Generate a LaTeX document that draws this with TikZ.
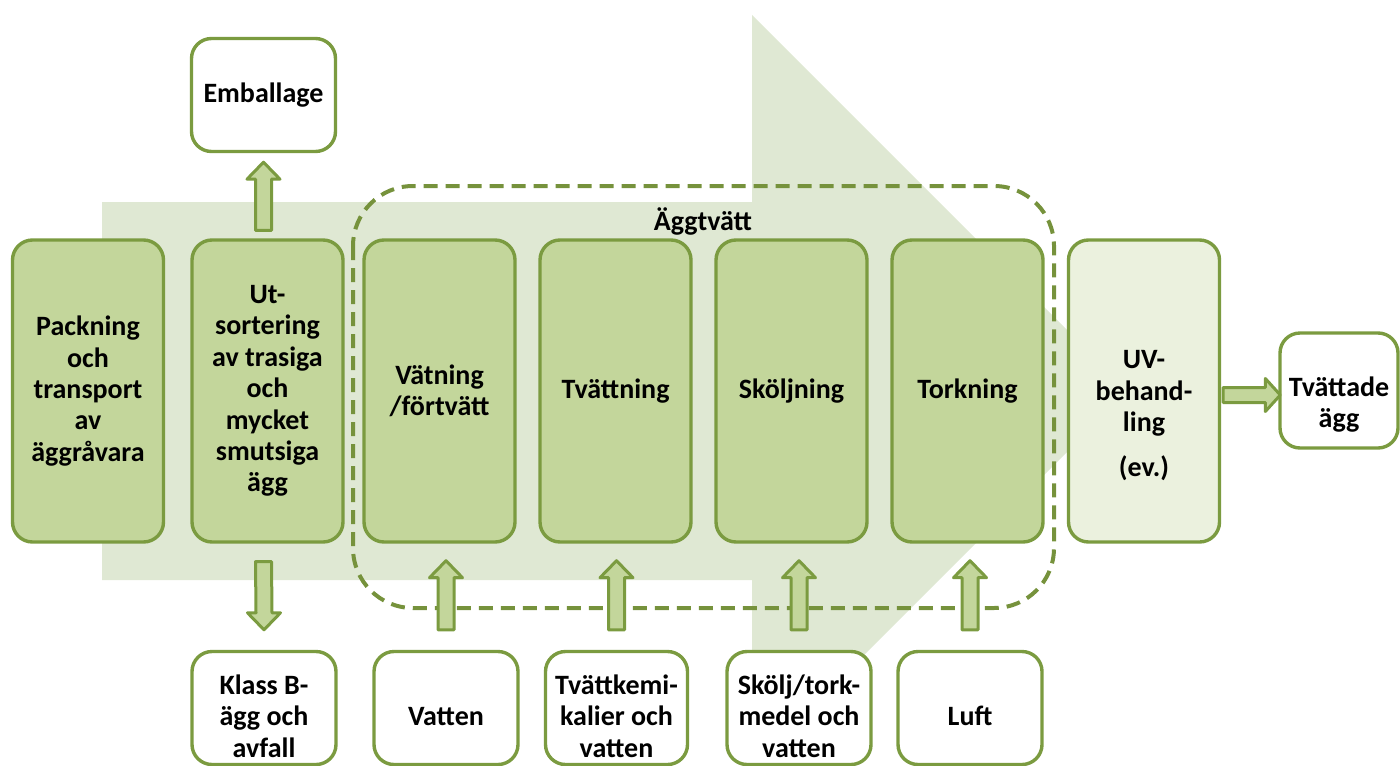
\documentclass[tikz,border=0pt]{standalone}
\usepackage{fontspec}
\setmainfont{Carlito}
\usetikzlibrary{calc}
\definecolor{moss}{HTML}{7B9B40}
\definecolor{leaf}{HTML}{C3D69B}
\definecolor{pale}{HTML}{EBF1DE}
\definecolor{haze}{HTML}{DFE8D3}
\definecolor{fence}{HTML}{76923C}

% fat block arrows, tail first then tip
\newcommand{\fatup}[2]{\filldraw[fatarrow] ($(#1)+(-8,0)$) -- ($(#2)+(-8,17)$) -- ($(#2)+(-16.5,17)$) -- (#2) -- ($(#2)+(16.5,17)$) -- ($(#2)+(8,17)$) -- ($(#1)+(8,0)$) -- cycle;}
\newcommand{\fatdown}[2]{\filldraw[fatarrow] ($(#1)+(-8,0)$) -- ($(#2)+(-8,-17)$) -- ($(#2)+(-16.5,-17)$) -- (#2) -- ($(#2)+(16.5,-17)$) -- ($(#2)+(8,-17)$) -- ($(#1)+(8,0)$) -- cycle;}
\newcommand{\fatright}[2]{\filldraw[fatarrow] ($(#1)+(0,-7.5)$) -- ($(#2)+(-15,-7.5)$) -- ($(#2)+(-15,-16.5)$) -- (#2) -- ($(#2)+(-15,16.5)$) -- ($(#2)+(-15,7.5)$) -- ($(#1)+(0,7.5)$) -- cycle;}
% taller first line pushes the text block down
\newcommand{\sink}[1]{\rule{0pt}{#1}}

\begin{document}
\begin{tikzpicture}[x=0.5pt,y=-0.5pt,line join=round,
  font=\fontsize{14}{15.7}\selectfont\bfseries,
  box/.style={draw=moss,line width=1.7pt,rounded corners=10pt,inner sep=0pt,align=center},
  stage/.style={box,fill=leaf,minimum width=75.5pt,minimum height=151pt},
  side/.style={box,fill=white,minimum width=72pt,minimum height=56.5pt},
  fatarrow/.style={draw=moss,fill=leaf,line width=1.5pt}]
  \useasboundingbox (0,0) rectangle (1400,765);

  % big process arrow in the back
  \fill[haze] (102,202) -- (752,202) -- (752,15) -- (1128,391) -- (752,767) -- (752,580) -- (102,580) -- cycle;

  % washing group
  \draw[fence,line width=2pt,dash pattern=on 7pt off 4pt,rounded corners=30pt] (353,186) rectangle (1054,608);
  \node (wash) at (703,221) {Äggtvätt};

  % main stages
  \node[stage] (pack) at (88,391) {Packning\\och\\transport\\av\\äggråvara};
  \node[stage] (sort) at (267.5,391) {Ut-\\sortering\\av trasiga\\och\\mycket\\smutsiga\\ägg};
  \node[stage] (wet) at (439.5,391) {Vätning\\/förtvätt};
  \node[stage] (scrub) at (615.5,391) {Tvättning};
  \node[stage] (rinse) at (791.5,391) {Sköljning};
  \node[stage] (dry) at (967.5,391) {Torkning};
  \node[stage,fill=pale] (uv) at (1144,391) {\sink{34pt}UV-\\behand-\\ling\\[7pt](ev.)};
  \node[side,minimum width=59pt,minimum height=57.5pt] (done) at (1339,390.5) {\sink{24pt}Tvättade\\ägg};

  % inputs and outputs
  \node[side] (pkg) at (263.5,95) {Emballage};
  \node[side] (waste) at (264,708) {\sink{18pt}Klass B-\\ägg och\\avfall};
  \node[side] (water) at (446,708) {\sink{18pt}Vatten};
  \node[side,minimum width=71pt] (chem) at (616.5,708) {\sink{18pt}Tvättkemi-\\kalier och\\vatten};
  \node[side] (agent) at (799,708) {\sink{18pt}Skölj/tork-\\medel och\\vatten};
  \node[side] (air) at (970,708) {\sink{18pt}Luft};

  % flows
  \fatup{$(pkg.south |- sort.north)+(0,-8)$}{$(pkg.south)+(0,9)$}
  \fatdown{$(pkg.south |- sort.south)+(0,18)$}{$(waste.north)+(0,-20)$}
  \foreach \src in {water,chem,agent,air}
    \fatup{$(\src.north)+(0,-20)$}{$(\src.north |- wet.south)+(0,17)$};
  \fatright{$(uv.east)+(2,4)$}{$(done.west)+(2,4.5)$}
\end{tikzpicture}
\end{document}
